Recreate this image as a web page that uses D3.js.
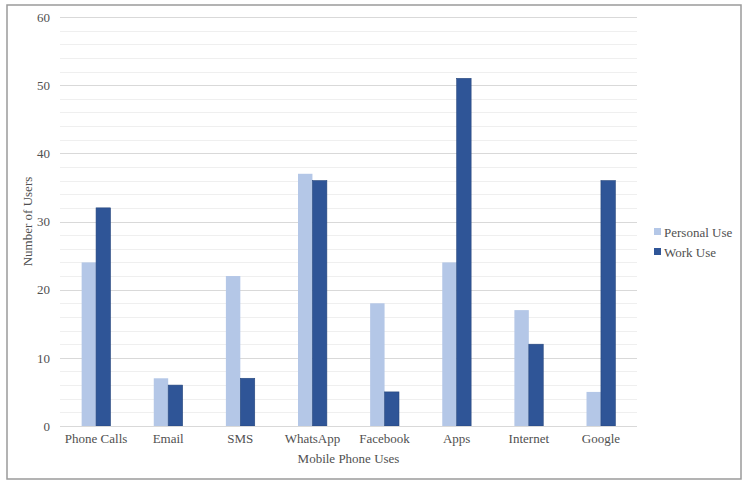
<!DOCTYPE html>
<html>
<head>
<meta charset="utf-8">
<script src="https://cdn.jsdelivr.net/npm/d3@7"></script>
<style>
  body { margin: 0; background: #fff; }
</style>
</head>
<body>
<div id="chart"></div>
<script>
var categories = ["Phone Calls", "Email", "SMS", "WhatsApp", "Facebook", "Apps", "Internet", "Google"];
var seriesNames = ["Personal Use", "Work Use"];
var personalUse = [24, 7, 22, 37, 18, 24, 17, 5];
var workUse = [32, 6, 7, 36, 5, 51, 12, 36];
var yTicks = [0, 10, 20, 30, 40, 50, 60];
var colors = ["#b4c7e7", "#2f5597"];

var FONT = "'Liberation Serif', 'Times New Roman', serif";
var TEXT_COLOR = "#505050";

var W = 750, H = 488;
var margin = { left: 60, right: 113, top: 17, bottom: 62 };

var svg = d3.select("#chart").append("svg")
  .attr("width", W).attr("height", H)
  .attr("font-family", FONT);

// outer frame
svg.append("rect")
  .attr("x", 7).attr("y", 5)
  .attr("width", 734).attr("height", 474)
  .attr("fill", "#fff")
  .attr("stroke", "#9a9a9a")
  .attr("stroke-width", 1.5);

var x = d3.scaleBand()
  .domain(categories)
  .range([margin.left, W - margin.right])
  .paddingInner(0.6).paddingOuter(0.3);

var y = d3.scaleLinear()
  .domain([0, 60])
  .range([H - margin.bottom, margin.top]);

var xSub = d3.scaleBand()
  .domain(seriesNames)
  .range([0, x.bandwidth()]);

// gridlines (minor every 2, major every 10)
svg.append("g").selectAll("line")
  .data(d3.range(2, 61, 2))
  .enter().append("line")
  .attr("x1", margin.left).attr("x2", W - margin.right)
  .attr("y1", function(d) { return Math.round(y(d)) + 0.5; })
  .attr("y2", function(d) { return Math.round(y(d)) + 0.5; })
  .attr("stroke", function(d) { return d % 10 === 0 ? "#d9d9d9" : "#efefef"; })
  .attr("stroke-width", 1);

// y axis labels
var yAxis = d3.axisLeft(y).tickValues(yTicks).tickSize(0).tickPadding(10);
var yg = svg.append("g")
  .attr("transform", "translate(" + margin.left + ",0)")
  .call(yAxis)
  .attr("font-family", FONT)
  .attr("font-size", 13);
yg.select(".domain").remove();
yg.selectAll("text").attr("fill", TEXT_COLOR);

// bars
var data = categories.map(function(c, i) {
  return { cat: c, values: [personalUse[i], workUse[i]] };
});

var groups = svg.append("g").selectAll("g")
  .data(data)
  .enter().append("g")
  .attr("transform", function(d) { return "translate(" + x(d.cat) + ",0)"; });

groups.selectAll("rect")
  .data(function(d) { return d.values.map(function(v, i) { return { key: seriesNames[i], value: v, i: i }; }); })
  .enter().append("rect")
  .attr("x", function(d) { return xSub(d.key); })
  .attr("y", function(d) { return y(d.value); })
  .attr("width", xSub.bandwidth())
  .attr("height", function(d) { return y(0) - y(d.value); })
  .attr("fill", function(d) { return colors[d.i]; })
  .attr("stroke", function(d) { return d.i === 1 ? "#26467d" : "none"; })
  .attr("stroke-width", 0.6);

// x axis baseline
svg.append("line")
  .attr("x1", margin.left).attr("x2", W - margin.right)
  .attr("y1", Math.round(y(0)) + 0.5).attr("y2", Math.round(y(0)) + 0.5)
  .attr("stroke", "#d9d9d9");

// x axis labels
var xAxis = d3.axisBottom(x).tickSize(0).tickPadding(8);
var xg = svg.append("g")
  .attr("transform", "translate(0," + y(0) + ")")
  .call(xAxis)
  .attr("font-family", FONT)
  .attr("font-size", 13);
xg.select(".domain").remove();
xg.selectAll("text").attr("fill", TEXT_COLOR);

// axis titles
svg.append("text")
  .attr("x", (margin.left + W - margin.right) / 2)
  .attr("y", 463)
  .attr("text-anchor", "middle")
  .attr("font-size", 13)
  .attr("fill", TEXT_COLOR)
  .text("Mobile Phone Uses");

svg.append("text")
  .attr("transform", "translate(32," + (margin.top + H - margin.bottom) / 2 + ") rotate(-90)")
  .attr("text-anchor", "middle")
  .attr("font-size", 13)
  .attr("fill", TEXT_COLOR)
  .text("Number of Users");

// legend
var legend = svg.append("g").selectAll("g")
  .data(seriesNames)
  .enter().append("g")
  .attr("transform", function(d, i) { return "translate(654," + (232 + i * 20) + ")"; });

legend.append("rect")
  .attr("x", 0).attr("y", -4)
  .attr("width", 7).attr("height", 7)
  .attr("fill", function(d, i) { return colors[i]; });

legend.append("text")
  .attr("x", 10).attr("y", 0)
  .attr("dy", "0.35em")
  .attr("font-size", 13)
  .attr("fill", TEXT_COLOR)
  .text(function(d) { return d; });
</script>
</body>
</html>
